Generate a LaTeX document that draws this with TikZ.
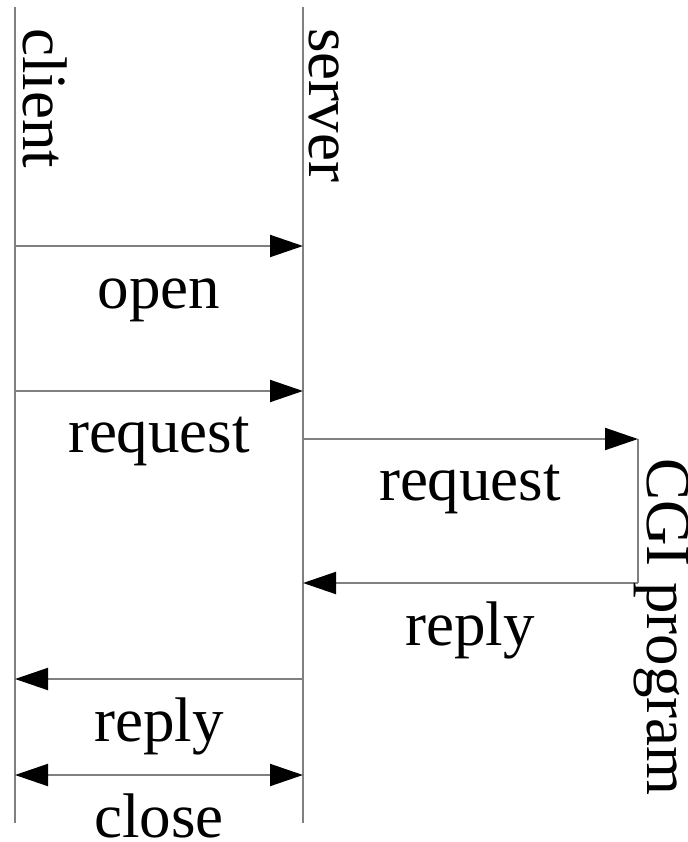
\documentclass[tikz,border=0pt]{standalone}
\usepackage{fontspec}
\setmainfont{Liberation Serif}
\usetikzlibrary{arrows.meta}
\definecolor{lifegray}{HTML}{808080}
\tikzset{
  lifeline/.style={draw=lifegray, line width=2pt},
  msg/.style={draw=lifegray, line width=2pt, -{Triangle[length=33pt,width=22pt,color=black]}},
  msgboth/.style={draw=lifegray, line width=2pt, {Triangle[length=33pt,width=22pt,color=black]}-{Triangle[length=33pt,width=22pt,color=black]}},
  vlabel/.style={rotate=-90, anchor=base west, inner sep=0pt, font=\fontsize{63}{70}\selectfont},
  hlabel/.style={anchor=base, inner sep=0pt, font=\fontsize{63}{70}\selectfont}
}
\begin{document}
\begin{tikzpicture}[x=1pt,y=-1pt]
\useasboundingbox (0,0) rectangle (687,842);
% lifeline ends
\coordinate (ctop) at (15,7);
\coordinate (cbot) at (15,823);
\coordinate (stop) at (303,7);
\coordinate (sbot) at (303,823);
\coordinate (gtop) at (638,439);
\coordinate (gbot) at (638,583);
% message points
\coordinate (c1) at (15,246);  \coordinate (s1) at (303,246);
\coordinate (c2) at (15,391);  \coordinate (s2) at (303,391);
\coordinate (s3) at (303,439);
\coordinate (s4) at (303,583);
\coordinate (c5) at (15,679);  \coordinate (s5) at (303,679);
\coordinate (c6) at (15,775);  \coordinate (s6) at (303,775);
% lifelines
\draw[lifeline] (ctop) -- (cbot);
\draw[lifeline] (stop) -- (sbot);
\draw[lifeline] (gtop) -- (gbot);
% messages
\draw[msg] (c1) -- (s1);
\draw[msg] (c2) -- (s2);
\draw[msg] (s3) -- (gtop);
\draw[msg] (gbot) -- (s4);
\draw[msg] (s5) -- (c5);
\draw[msgboth] (c6) -- (s6);
% participant labels
\node[vlabel] (client) at (23,28) {client};
\node[vlabel] (server) at (309,28) {server};
\node[vlabel] (cgi) at (647,458) {CGI program};
% message labels
\node[hlabel] (lopen) at (159,308) {open};
\node[hlabel] (lreq1) at (159,452) {request};
\node[hlabel] (lreq2) at (470,500) {request};
\node[hlabel] (lrep1) at (470,645) {reply};
\node[hlabel] (lrep2) at (159,741) {reply};
\node[hlabel] (lclose) at (159,837) {close};
\end{tikzpicture}
\end{document}
